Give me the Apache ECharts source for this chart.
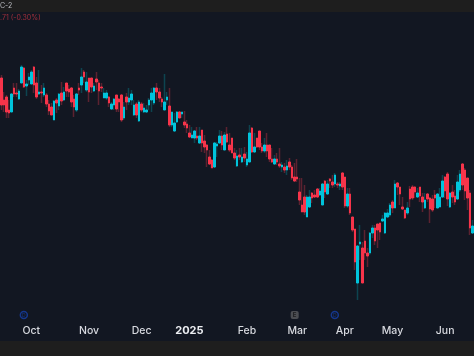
<!DOCTYPE html>
<html lang="en">
<head>
<meta charset="UTF-8">
<title>Candles</title>
<style>
    html, body { margin: 0; padding: 0; background: #121722; }
    #chart { width: 474px; height: 356px; }
</style>
<script src="https://cdn.jsdelivr.net/npm/echarts@6/dist/echarts.min.js"></script>
</head>
<body>
<div id="chart"></div>
<script>
// prices are on an arbitrary scale, the reference shows no price axis
const opens = [278,256,259,246,244,268,263,257,273,288,
    270,276,272,289,273,262,264,261,261,252,
    249,236,256,250,263,256,273,267,268,257,
    246,268,271,284,266,278,278,265,277,273,
    269,258,258,259,247,251,261,257,261,238,
    259,254,256,241,252,235,252,244,244,251,
    256,253,268,264,257,246,256,250,231,225,
    234,244,242,234,232,223,218,218,220,213,
    226,215,211,199,196,189,210,213,220,206,
    222,211,218,203,190,201,194,202,191,194,
    228,204,218,225,209,205,211,211,197,192,
    197,192,189,189,186,194,189,179,179,164,
    151,159,139,149,163,161,167,161,151,175,
    162,177,174,172,172,170,183,179,150,162,
    139,127,73,112,108,115,103,103,123,128,
    132,133,135,123,139,141,154,148,173,169,
    149,146,143,167,169,169,159,169,159,148,
    162,158,157,161,148,149,159,179,182,149,
    164,160,157,166,192,186,178,163,123];
const closes = [251,251,244,243,262,262,262,265,289,269,
    272,279,284,271,259,264,263,268,252,245,
    241,255,253,262,255,264,265,264,254,249,
    262,266,279,279,274,264,269,270,274,265,
    268,263,263,253,252,257,247,254,236,249,
    254,258,262,251,241,254,246,248,246,256,
    263,268,264,258,254,254,259,231,244,233,
    244,238,244,231,228,219,221,225,218,220,
    213,209,206,192,188,213,212,220,211,221,
    214,206,203,198,200,199,199,198,197,223,
    204,209,209,209,205,211,205,197,194,197,
    194,190,191,186,190,189,178,175,177,156,
    144,144,159,159,158,159,159,165,172,164,
    172,175,171,181,171,172,169,150,162,143,
    126,94,110,114,73,103,100,123,128,115,
    126,124,137,143,143,151,148,172,169,162,
    147,138,148,157,158,164,163,160,154,156,
    157,147,146,158,162,159,175,165,157,163,
    159,154,174,182,171,165,158,128,130];
const lows = [246,244,238,238,244,259,259,256,273,268,
    260,271,272,263,257,261,253,259,249,241,
    241,236,243,246,251,255,259,259,249,239,
    244,261,263,273,264,254,263,264,266,251,
    264,258,256,249,246,246,244,244,234,236,
    246,251,251,240,238,234,244,243,243,246,
    244,251,256,254,249,246,251,229,229,224,
    233,238,238,228,223,218,218,213,216,212,
    204,203,189,191,188,188,199,212,206,206,
    213,204,203,196,189,196,193,194,189,194,
    203,203,208,206,203,203,199,194,193,191,
    191,188,184,183,181,186,176,174,174,151,
    144,141,139,148,153,158,158,160,151,158,
    161,168,168,169,168,166,166,148,148,141,
    124,86,56,96,73,96,89,101,118,111,
    108,116,134,122,138,139,143,148,161,151,
    146,137,141,149,156,158,158,154,144,147,
    154,133,144,148,148,149,158,158,150,148,
    153,151,156,164,166,156,146,121,122];
const highs = [281,264,261,256,263,273,273,267,291,289,
    276,283,286,290,279,286,271,273,263,256,
    253,256,258,263,274,269,273,271,269,261,
    263,273,288,286,284,278,278,273,284,276,
    273,268,266,260,254,258,261,258,262,254,
    263,268,266,256,254,256,254,253,251,258,
    268,269,273,268,259,282,264,268,244,243,
    245,245,244,245,236,231,229,226,229,229,
    226,221,212,206,197,214,214,226,225,224,
    229,223,218,208,206,208,208,209,204,231,
    229,223,218,225,213,218,223,211,208,201,
    203,208,194,193,196,198,191,193,197,178,
    178,171,161,166,164,166,168,168,173,176,
    176,178,181,183,174,174,184,179,168,168,
    139,127,111,131,114,126,108,124,131,131,
    132,133,141,144,147,153,156,176,174,169,
    159,146,154,170,171,170,168,169,163,163,
    163,159,161,166,163,168,181,180,184,164,
    171,166,181,186,193,188,178,166,136];

// candle index of each time axis label
const tickLabels = ['Oct', 'Nov', 'Dec', '2025', 'Feb', 'Mar', 'Apr', 'May', 'Jun'];
const tickIndexes = [12, 35, 56, 75, 98, 118, 137, 156, 177];

// event markers under the candles
const dividendIndexes = [9, 133];
const earningsIndexes = [117];
const markerPrice = 41;

const categories = opens.map((v, i) => i);
const wickData = opens.map((v, i) => [v, closes[i], lows[i], highs[i]]);
const bodyData = opens.map((v, i) => [v, closes[i], Math.min(v, closes[i]), Math.max(v, closes[i])]);

const chart = echarts.init(document.getElementById('chart'));
chart.setOption({
    animation: false,
    backgroundColor: '#121722',
    grid: { left: -1, top: 0, width: 476.28, height: 356 },
    xAxis: {
        type: 'category',
        data: categories,
        offset: -36,
        axisLine: { show: false },
        axisTick: { show: false },
        splitLine: { show: false },
        axisLabel: {
            margin: 5,
            fontFamily: 'Inter',
            fontSize: 10.5,
            fontWeight: 500,
            color: '#d8dae0',
            interval: (i) => tickIndexes.includes(i),
            formatter: (v) => {
                const label = tickLabels[tickIndexes.indexOf(Number(v))];
                return label === '2025' ? '{year|2025}' : label;
            },
            rich: { year: { fontFamily: 'Inter', fontSize: 11, fontWeight: 'bold', color: '#eceef2' } }
        }
    },
    yAxis: { type: 'value', min: 0, max: 356, show: false },
    series: [
        {
            // wicks are dimmer than the bodies, so they get their own series
            type: 'candlestick',
            data: wickData,
            barWidth: 0.1,
            itemStyle: {
                color: '#0d4450', color0: '#5c2230',
                borderColor: '#0d4450', borderColor0: '#5c2230', borderColorDoji: '#5c2230',
                borderWidth: 1.5
            }
        },
        {
            // corners snap inward to half pixels, this gives a crisp 2px body
            type: 'candlestick',
            data: bodyData,
            barWidth: 2,
            itemStyle: {
                color: '#00c4dc', color0: '#f7344a',
                borderColor: '#00c4dc', borderColor0: '#f7344a', borderColorDoji: '#f7344a',
                borderWidth: 1
            }
        },
        {
            type: 'scatter',
            data: dividendIndexes.map((i) => [i, markerPrice]),
            symbol: 'circle',
            symbolSize: 7,
            itemStyle: { color: 'transparent', borderColor: '#1740a8', borderWidth: 1.5 },
            label: { show: true, position: 'inside', formatter: 'D', fontSize: 5, color: '#1740a8', fontFamily: 'Inter' }
        },
        {
            type: 'scatter',
            data: earningsIndexes.map((i) => [i, markerPrice]),
            symbol: 'roundRect',
            symbolSize: 8,
            itemStyle: { color: '#5a5b5f' },
            label: { show: true, position: 'inside', formatter: 'E', fontSize: 6, fontWeight: 'bold', color: '#111113', fontFamily: 'Inter' }
        }
    ],
    graphic: [
        { type: 'rect', z: 10, shape: { x: 0, y: 0, width: 474, height: 12 }, style: { fill: '#1e1e1e' } },
        { type: 'rect', z: 10, shape: { x: 0, y: 341, width: 474, height: 15 }, style: { fill: '#1e1e1e' } },
        { type: 'text', z: 11, x: 0, y: 2, style: { text: 'C-2', fill: '#b8bac0', font: '7px Inter' } },
        { type: 'text', z: 11, x: 0, y: 14, style: { text: '.71 (-0.30%)', fill: '#a02f3c', font: '7px Inter' } }
    ]
});
</script>
</body>
</html>
